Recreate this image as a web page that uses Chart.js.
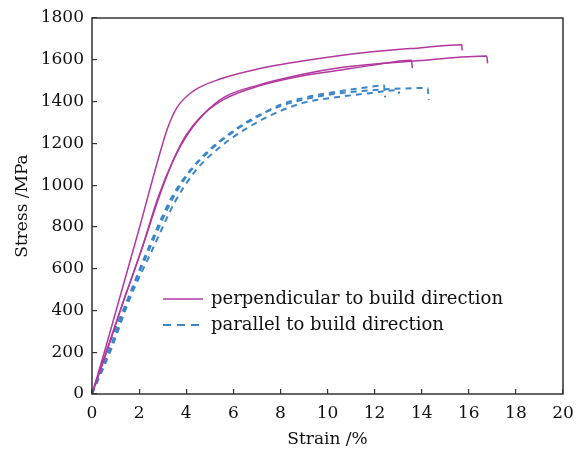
<!DOCTYPE html>
<html>
<head>
<meta charset="utf-8">
<script src="https://cdn.jsdelivr.net/npm/chart.js@4.4.1/dist/chart.umd.min.js"></script>
<style>
  body { margin: 0; background: #fff; }
  #wrap { position: relative; width: 587px; height: 454px; }
</style>
</head>
<body>
<div id="wrap"><canvas id="chart1" width="587" height="454"></canvas></div>
<script>
// strain (%) / stress (MPa)
const perp1 = [[0,0],[0.5,190],[1,390],[2,790],[2.75,1100],[3.2,1270],[3.6,1370],[4.3,1450],[5.5,1510],[7,1555],[9,1595],[11.8,1637],[14,1658],[15.7,1672],[15.72,1645]];
const perp2 = [[0,0],[0.6,200],[1.2,400],[2.1,690],[2.8,940],[3.45,1120],[4.0,1240],[4.6,1325],[5.6,1410],[7.1,1475],[9,1525],[10.5,1550],[11.8,1572],[13.57,1598],[13.6,1560]];
const perp3 = [[0,0],[0.5,160],[1.2,400],[2.1,690],[2.9,960],[3.5,1130],[4.1,1250],[4.7,1335],[5.6,1420],[7.1,1480],[9,1532],[10.5,1562],[11.8,1578],[14,1597],[16.76,1618],[16.8,1583]];
const para1 = [[0,0],[0.8,230],[1.6,470],[2.5,710],[3.45,940],[4.2,1070],[4.9,1155],[6,1255],[7,1325],[8,1385],[9,1418],[10,1440],[11.8,1470],[12.4,1478],[12.45,1420]];
const para2 = [[0,0],[0.8,210],[1.6,455],[2.6,700],[3.5,915],[4.3,1055],[5,1140],[6,1230],[7,1300],[8,1355],[9,1395],[10,1415],[11.8,1440],[13,1455],[13.05,1438]];
const para3 = [[0,0],[0.7,230],[1.5,450],[2.4,700],[3.4,945],[4.2,1075],[4.9,1160],[6,1260],[7,1330],[8,1378],[9,1410],[10,1432],[12,1455],[14.25,1465],[14.3,1408]];

const legendLabels = ["perpendicular to build direction", "parallel to build direction"];
const magenta = "#b2389f";
const blue = "#3a86c8";
const FONT = "'DejaVu Serif', serif";
const TXT = "#111";

function toPts(arr){
    return arr.map(function(p){ return {x: p[0], y: p[1]}; });
}

function lineSet(arr, color, dashed){
    return {
	data: toPts(arr),
	showLine: true,
	borderColor: color,
	borderWidth: dashed ? 2 : 1.5,
	borderDash: dashed ? [6,5] : [],
	pointRadius: 0,
	cubicInterpolationMode: 'monotone',
	fill: false
    };
}

// frame + in-plot legend
const framePlugin = {
    id: 'frame',
    afterDraw: function(chart){
	const ctx = chart.ctx;
	const a = chart.chartArea;
	ctx.save();
	ctx.strokeStyle = "#333";
	ctx.lineWidth = 1.5;
	ctx.strokeRect(a.left, a.top, a.right - a.left, a.bottom - a.top);

	ctx.font = "18px " + FONT;
	ctx.fillStyle = TXT;
	ctx.textBaseline = "middle";
	ctx.textAlign = "left";

	ctx.strokeStyle = magenta;
	ctx.lineWidth = 1.5;
	ctx.beginPath(); ctx.moveTo(163, 299); ctx.lineTo(203, 299); ctx.stroke();
	ctx.fillText(legendLabels[0], 211, 299);

	ctx.strokeStyle = blue;
	ctx.lineWidth = 2;
	ctx.setLineDash([8,6]);
	ctx.beginPath(); ctx.moveTo(163, 325); ctx.lineTo(205, 325); ctx.stroke();
	ctx.setLineDash([]);
	ctx.fillText(legendLabels[1], 211, 325);
	ctx.restore();
    }
};

new Chart(document.getElementById("chart1"), {
    type: 'scatter',
    data: {
	datasets: [
	    lineSet(perp1, magenta, false),
	    lineSet(perp2, magenta, false),
	    lineSet(perp3, magenta, false),
	    lineSet(para1, blue, true),
	    lineSet(para2, blue, true),
	    lineSet(para3, blue, true)
	]
    },
    options: {
	animation: false,
	responsive: false,
	maintainAspectRatio: false,
	layout: { padding: { top: 18, right: 24, left: 0, bottom: 0 } },
	plugins: { legend: { display: false }, tooltip: { enabled: false } },
	scales: {
	    x: {
		type: 'linear', min: 0, max: 20,
		afterFit: function(s){ s.height = 60; s.paddingRight = 0; s.paddingLeft = 0; },
		grid: { drawOnChartArea: false, drawTicks: true, tickLength: -5, color: "#333", lineWidth: 1.2 },
		border: { display: false },
		ticks: { stepSize: 2, color: TXT, padding: 14, font: { family: FONT, size: 17 },
			 callback: function(v){ return String(v); } },
		title: { display: true, text: "Strain /%", color: TXT, padding: { top: 0, bottom: 4 }, font: { family: FONT, size: 17 } }
	    },
	    y: {
		min: 0, max: 1800,
		afterFit: function(s){ s.width = 92; s.paddingTop = 0; s.paddingBottom = 0; },
		grid: { drawOnChartArea: false, drawTicks: true, tickLength: -5, color: "#333", lineWidth: 1.2 },
		border: { display: false },
		ticks: { stepSize: 200, color: TXT, padding: 13, font: { family: FONT, size: 17 },
			 callback: function(v){ return String(v); } },
		title: { display: true, text: "Stress /MPa", color: TXT, padding: { top: 12, bottom: 0 }, font: { family: FONT, size: 17 } }
	    }
	}
    },
    plugins: [framePlugin]
});
</script>
</body>
</html>
